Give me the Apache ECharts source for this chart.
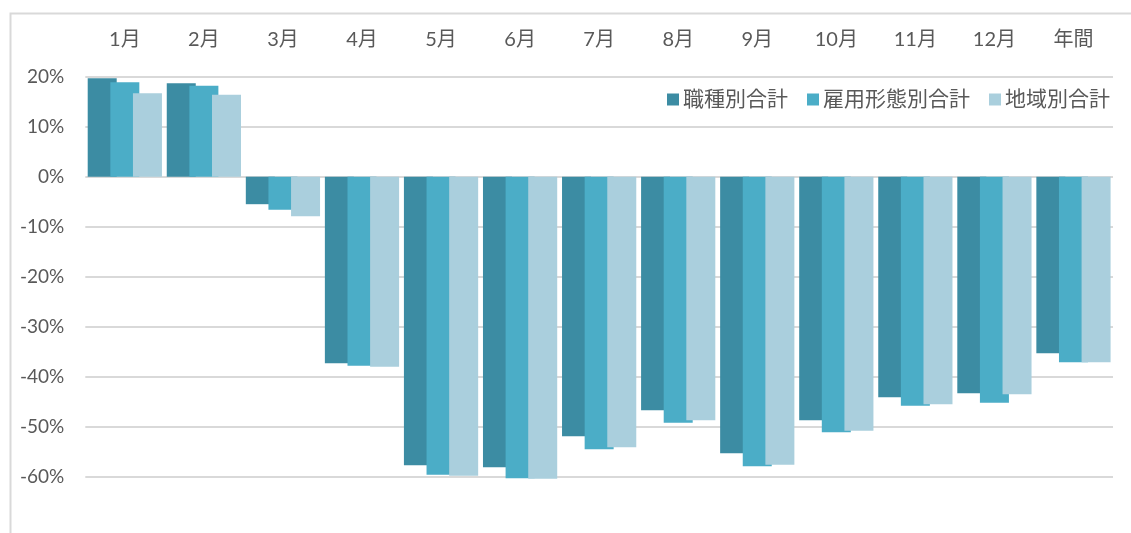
<!DOCTYPE html>
<html>
<head>
<meta charset="utf-8">
<script src="https://cdn.jsdelivr.net/npm/echarts@6/dist/echarts.min.js"></script>
<style>
html,body{margin:0;padding:0;background:#fff;}
#chart{width:1131px;height:533px;}
</style>
</head>
<body>
<div id="chart"></div>
<script>
const categories = ['1月','2月','3月','4月','5月','6月','7月','8月','9月','10月','11月','12月','年間'];
const seriesNames = ['職種別合計','雇用形態別合計','地域別合計'];
const byOccupation = [19.7, 18.7, -5.5, -37.3, -57.7, -58.1, -51.9, -46.7, -55.3, -48.7, -44.1, -43.3, -35.3];
const byEmployment = [18.9, 18.2, -6.6, -37.8, -59.6, -60.3, -54.5, -49.2, -57.9, -51.1, -45.8, -45.2, -37.1];
const byRegion     = [16.7, 16.4, -7.9, -38.0, -59.8, -60.4, -54.1, -48.7, -57.6, -50.8, -45.5, -43.5, -37.1];
const colors = ['#3C8CA3', '#4BADC7', '#AACFDD'];

const FONT = "Lato, 'Noto Sans CJK JP', sans-serif";
const chart = echarts.init(document.getElementById('chart'), null, {renderer: 'canvas'});
const gridColors = ['rgba(0,0,0,0)'].concat(new Array(9).fill('#d9d9d9'));
const seriesData = [byOccupation, byEmployment, byRegion];

chart.setOption({
  animation: false,
  backgroundColor: '#fff',
  color: colors,
  textStyle: {fontFamily: FONT},
  graphic: [{
    type: 'rect',
    left: 8, top: 11,
    shape: {width: 1300, height: 700},
    style: {fill: 'none', stroke: '#d9d9d9', lineWidth: 2},
    silent: true
  }],
  legend: {
    right: 21,
    top: 89,
    padding: 0,
    itemWidth: 12,
    itemHeight: 12,
    itemGap: 19,
    icon: 'rect',
    textStyle: {color: '#595959', fontSize: 21, fontFamily: FONT, padding: [0, 0, 0, -1]},
    data: seriesNames
  },
  grid: {left: 85.3, right: 18, top: 76.7, bottom: 6.3, containLabel: false},
  xAxis: {
    type: 'category',
    position: 'top',
    data: categories,
    axisLine: {show: false, onZero: false},
    axisTick: {show: false},
    axisLabel: {color: '#595959', fontSize: 20, margin: 27, fontFamily: FONT},
    splitLine: {show: false}
  },
  yAxis: {
    type: 'value',
    min: -70,
    max: 20,
    interval: 10,
    axisLine: {show: false},
    axisTick: {show: false},
    axisLabel: {
      color: '#595959', fontSize: 19, margin: 21, fontFamily: FONT,
      formatter: v => (v === -70 ? '' : v + '%')
    },
    splitLine: {show: true, lineStyle: {color: gridColors, width: 2}}
  },
  series: seriesNames.map((name, i) => ({
    name: name,
    type: 'bar',
    data: seriesData[i],
    barWidth: 29,
    barGap: '-22%',
    itemStyle: {color: colors[i]}
  }))
});
</script>
</body>
</html>
